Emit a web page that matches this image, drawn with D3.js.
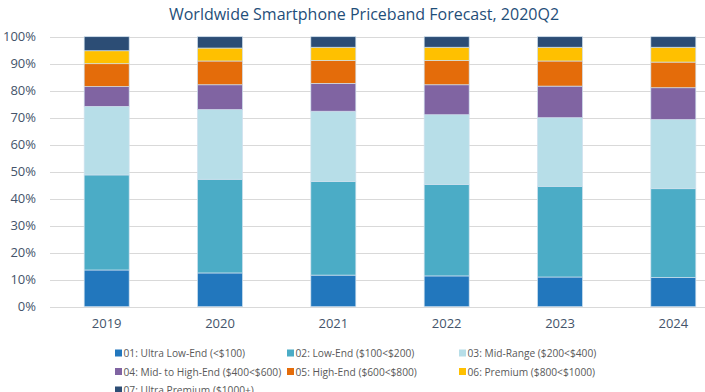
<!DOCTYPE html>
<html><head><meta charset="utf-8">
<script src="https://cdn.jsdelivr.net/npm/d3@7"></script>
<style>body{margin:0;background:#fff}svg{display:block}text{font-family:"Open Sans","Noto Sans",sans-serif}</style>
</head><body><svg id="c" width="705" height="392"></svg>
<script>
const years = ["2019","2020","2021","2022","2023","2024"];
const seriesNames = ["01: Ultra Low-End (<$100)","02: Low-End ($100<$200)","03: Mid-Range ($200<$400)","04: Mid- to High-End ($400<$600)","05: High-End ($600<$800)","06: Premium ($800<$1000)","07: Ultra Premium ($1000+)"];
const ultraLow   = [13.6, 12.5, 11.7, 11.4, 11.0, 10.8];
const lowEnd     = [35.2, 34.7, 34.7, 33.9, 33.6, 32.9];
const midRange   = [25.4, 25.8, 26.0, 25.8, 25.4, 25.6];
const midHigh    = [7.3, 9.2, 10.3, 11.1, 11.7, 11.8];
const highEnd    = [8.5, 8.8, 8.5, 9.0, 9.3, 9.5];
const premium    = [4.8, 4.8, 4.9, 4.9, 5.1, 5.5];
const ultraPrem  = [5.2, 4.2, 3.9, 3.9, 3.9, 3.9];
const yTicks = [0,10,20,30,40,50,60,70,80,90,100];
const colors = ["#2277BD","#4BACC6","#B7DEE8","#8064A2","#E46C0A","#FFC000","#2C4D75"];

const seriesArr = [ultraLow, lowEnd, midRange, midHigh, highEnd, premium, ultraPrem];
const rows = years.map((y,i)=>{ const r={year:y}; seriesNames.forEach((s,k)=>r[s]=seriesArr[k][i]); return r; });
const stack = d3.stack().keys(seriesNames)(rows);

const svg = d3.select("#c");
const x = d3.scaleBand().domain(years).range([50,730]).paddingInner(0.603).paddingOuter(0.3015);
const y = d3.scaleLinear().domain([0,100]).range([306.7,36.7]);

svg.append("text").attr("x",364).attr("y",20).attr("text-anchor","middle")
  .attr("font-size",16).attr("fill","#1F4E79").text("Worldwide Smartphone Priceband Forecast, 2020Q2");

const grid = svg.append("g");
grid.selectAll("line").data(yTicks).join("line")
  .attr("x1",50).attr("x2",705).attr("y1",d=>Math.round(y(d))+0.5).attr("y2",d=>Math.round(y(d))+0.5)
  .attr("stroke","#D9D9D9").attr("stroke-width",1);
const yAxis = d3.axisLeft(y).tickValues(yTicks).tickFormat(d=>d+"%").tickSize(0).tickPadding(14);
const ya = svg.append("g").attr("transform","translate(50,0)").call(yAxis);
ya.select(".domain").remove();
ya.selectAll("text").attr("font-size",13).attr("fill","#44546A").attr("font-family","Open Sans, sans-serif");

svg.append("g").selectAll("g").data(stack).join("g").attr("fill",(d,i)=>colors[i])
  .selectAll("rect").data(d=>d).join("rect")
  .attr("x",d=>x(d.data.year)).attr("width",x.bandwidth())
  .attr("y",d=>y(d[1])).attr("height",d=>y(d[0])-y(d[1]))
  .attr("stroke","#cfe0ee").attr("stroke-width",0.7);

const xAxis = d3.axisBottom(x).tickSize(0).tickPadding(12);
const xa = svg.append("g").attr("transform","translate(0,307)").call(xAxis);
xa.select(".domain").remove();
xa.selectAll("text").attr("font-size",13).attr("fill","#44546A").attr("font-family","Open Sans, sans-serif");

const legX = [115, 287, 459];
const legY = [353, 371.5, 390];
const leg = svg.append("g");
seriesNames.forEach((s,i)=>{
  const cx = legX[i%3], cy = legY[Math.floor(i/3)];
  leg.append("rect").attr("x",cx).attr("y",cy-3.5).attr("width",7).attr("height",7).attr("fill",colors[i]);
  leg.append("text").attr("x",cx+8.5).attr("y",cy+4).attr("font-size",10.2).attr("fill","#595959").text(s);
});
</script></body></html>
